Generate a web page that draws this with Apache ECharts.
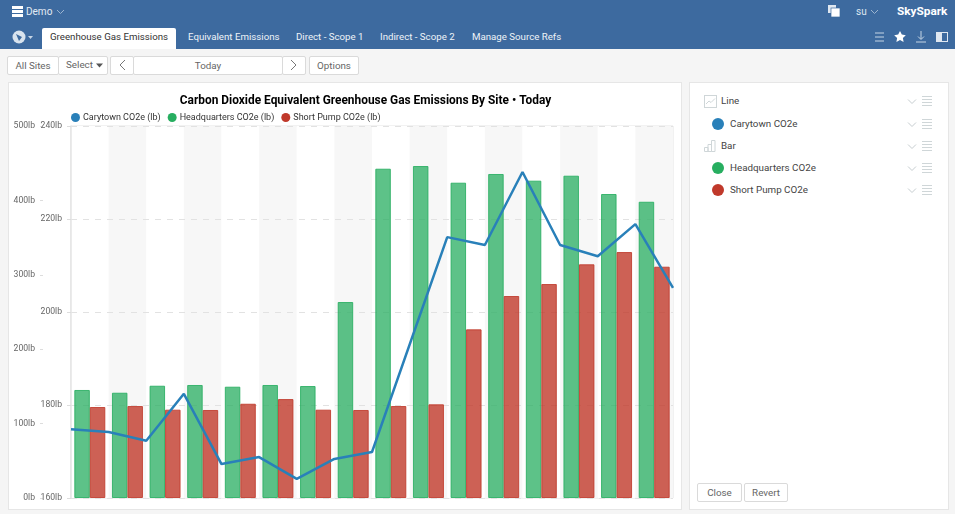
<!DOCTYPE html>
<html>
<head>
<meta charset="utf-8">
<title>Greenhouse Gas Emissions</title>
<script src="https://cdn.jsdelivr.net/npm/echarts@6/dist/echarts.min.js"></script>
<style>
  html, body { margin: 0; padding: 0; width: 955px; height: 514px; overflow: hidden; background: #f5f5f5; font-family: Roboto, sans-serif; }
  .abs { position: absolute; white-space: nowrap; }
  #topbar { left: 0; top: 0; width: 955px; height: 49px; background: #3d6a9f; }
  #activetab { left: 42px; top: 28px; width: 134px; height: 21px; background: #fff; border-radius: 2px 2px 0 0; }
  .tab { top: 29px; height: 16px; line-height: 16px; font-size: 9.7px; color: #eef3f8; }
  .tab.on { color: #333; }
  .btn { height: 17px; line-height: 17px; background: #fff; border: 1px solid #dadada; font-size: 9.8px; color: #666; text-align: center; box-sizing: content-box; }
  .panel { background: #fff; border: 1px solid #e6e6e6; box-sizing: border-box; }
  .row { font-size: 9.8px; color: #444; height: 14px; line-height: 14px; }
  .dot { width: 12px; height: 12px; border-radius: 50%; }
  svg.abs { overflow: visible; }
</style>
</head>
<body>
<div class="abs" id="topbar"></div>
<div class="abs" id="activetab"></div>
<div class="abs panel" style="left:8px;top:82px;width:674px;height:428px"></div>
<div class="abs panel" style="left:689px;top:82px;width:260px;height:428px"></div>
<div class="abs" id="chart" style="left:8px;top:82px;width:674px;height:428px"></div>
<div id="ui"></div>
<svg class="abs" id="icons" style="left:0;top:0" width="955" height="514"></svg>

<script>
var categories = ['1','2','3','4','5','6','7','8','9','10','11','12','13','14','15','16'];
var lineTicks = ['0','1','2','3','4','5','6','7','8','9','10','11','12','13','14','15','16'];

var headquarters = [145.2, 141.5, 150.9, 151.9, 149.6, 151.9, 150.5, 263.4, 442.6, 446.2, 423.8, 435.5, 426.5, 433.2, 408.6, 398.2];
var shortPump = [122.3, 123.6, 118.7, 118.3, 126.7, 133, 118.7, 118.3, 123.6, 125.9, 226.7, 271.5, 287.6, 314.1, 330.6, 310.9];
var carytown = [174.8, 174.2, 172.3, 182.4, 167.3, 168.8, 164.1, 168.4, 169.9, null, 216.1, 214.4, 230.1, 214.4, 212.0, 218.9, 205.2];

var tabs = [['Greenhouse Gas Emissions', 50, 1], ['Equivalent Emissions', 188], ['Direct - Scope 1', 296], ['Indirect - Scope 2', 380], ['Manage Source Refs', 472]];
var toolbar = [['All Sites', 7, 51], ['', 58, 49], ['', 110, 23], ['Today', 133, 149], ['', 282, 23], ['Options', 309, 49]];
var rows = [['Line', 721, 101], ['Carytown CO2e', 730, 124], ['Bar', 721, 146], ['Headquarters CO2e', 730, 168], ['Short Pump CO2e', 730, 190]];
var dots = [['#2980b9', 124], ['#27ae60', 168], ['#c0392b', 190]];

function add(cls, style, text) {
  var d = document.createElement('div');
  d.className = 'abs ' + cls;
  d.style.cssText = style;
  d.textContent = text || '';
  document.getElementById('ui').appendChild(d);
}

tabs.forEach(function (t) {
  add('tab' + (t[2] ? ' on' : ''), 'left:' + t[1] + 'px', t[0]);
});
toolbar.forEach(function (b) {
  add('btn', 'left:' + b[1] + 'px;top:56px;width:' + (b[2] - 1) + 'px;border-radius:2px', b[0]);
});
add('row', 'left:66px;top:58px;color:#666', 'Select');
rows.forEach(function (r) {
  add('row', 'left:' + r[1] + 'px;top:' + (r[2] - 7) + 'px', r[0]);
});
dots.forEach(function (d) {
  add('dot', 'left:712px;top:' + (d[1] - 6) + 'px;background:' + d[0]);
});
add('btn', 'left:697px;top:483px;width:43px;border-radius:2px', 'Close');
add('btn', 'left:744px;top:483px;width:42px;border-radius:2px', 'Revert');
add('', 'left:26px;top:5px;line-height:14px;font-size:10px;color:#e4ebf3', 'Demo');
add('', 'left:856px;top:5px;line-height:14px;font-size:10px;color:#dfe7f0', 'su');
add('', 'left:897px;top:3px;line-height:16px;font-size:11.8px;font-weight:700;color:#fff', 'SkySpark');

// small chrome icons, not chart marks
var svg = '';
svg += '<rect x="12" y="6" width="11" height="3" fill="#fff"/><rect x="12" y="10" width="11" height="3" fill="#fff"/><rect x="12" y="14" width="11" height="3" fill="#fff"/>';
svg += '<path d="M57 10l3.500 3.500L64 10" fill="none" stroke="#9db5d0"/><path d="M871 10l3.500 3.500L878 10" fill="none" stroke="#9db5d0"/>';
svg += '<circle cx="19" cy="37" r="6.500" fill="#d8e3ee"/><path d="M16 34l6 3-3 4z" fill="#3d6a9f"/><path d="M28 36h5l-2.500 3z" fill="#c6d5e5"/>';
svg += '<rect x="828" y="5" width="8" height="8" fill="#dfe7f0"/><rect x="831" y="8" width="9" height="9" fill="#fff" stroke="#3d6a9f" stroke-width=".7"/>';
svg += '<path d="M875 33h9M875 37h9M875 41h9" stroke="#c6d5e5"/>';
svg += '<path d="M900 31l1.800 3.600 4 .6-2.900 2.800.7 4-3.600-1.900-3.600 1.900.7-4-2.900-2.800 4-.6z" fill="#fff"/>';
svg += '<path d="M921 31v8M918 36.500l3 3 3-3M916 42h10" fill="none" stroke="#c6d5e5"/>';
svg += '<rect x="936" y="32" width="12" height="10" fill="#dfe7f0"/><rect x="942" y="33" width="5" height="8" fill="#3d6a9f"/>';
svg += '<path d="M96 63.500h7l-3.500 4z" fill="#555"/>';
svg += '<path d="M125 60l-5 5 5 5M291 60l5 5-5 5" fill="none" stroke="#777"/>';
svg += '<rect x="704.500" y="95.500" width="12" height="12" fill="none" stroke="#cfd6d8"/><path d="M706 104l3-3 2 1.500 4-4" fill="none" stroke="#cfd6d8"/>';
svg += '<path d="M704.500 151.500v-4h3.500v4zM708 151.500v-7h3.500v7zM711.500 151.500v-11h3.500v11z" fill="none" stroke="#cfd6d8"/>';
rows.forEach(function (r) {
  var y = r[2];
  svg += '<path d="M908 ' + (y - 1.5) + 'l4 4 4-4" fill="none" stroke="#c5cccf"/>';
  svg += '<path d="M922 ' + (y - 4.5) + 'h10M922 ' + (y - 1.5) + 'h10M922 ' + (y + 1.5) + 'h10M922 ' + (y + 4.5) + 'h10" stroke="#cfd6d8"/>';
});
document.getElementById('icons').innerHTML = svg;

var chart = echarts.init(document.getElementById('chart'));

var option = {
  animation: false,
  textStyle: { fontFamily: 'Roboto' },
  title: {
    text: 'Carbon Dioxide Equivalent Greenhouse Gas Emissions By Site \u2022 Today',
    left: 352.5,
    top: 8,
    textAlign: 'center',
    textStyle: { fontSize: 11.9, fontWeight: 'bold', color: '#000', fontFamily: 'Roboto' }
  },
  legend: {
    left: 58,
    top: 26,
    itemWidth: 9,
    itemHeight: 9,
    itemGap: 7,
    icon: 'circle',
    textStyle: { fontSize: 9, color: '#333', padding: [0, 0, 0, -2] },
    data: [
      { name: 'Carytown CO2e (lb)', itemStyle: { color: '#2980b9' } },
      { name: 'Headquarters CO2e (lb)', itemStyle: { color: '#27ae60', borderWidth: 0 } },
      { name: 'Short Pump CO2e (lb)', itemStyle: { color: '#c0392b', borderWidth: 0 } }
    ]
  },
  grid: {
    left: 63,
    right: 9,
    top: 44,
    bottom: 12,
    show: true,
    borderColor: '#e4e4e4',
    borderWidth: 1
  },
  xAxis: [{
    type: 'category',
    data: categories,
    z: 0,
    axisLine: { show: false },
    axisTick: { show: false },
    axisLabel: { show: false },
    splitArea: { show: true, areaStyle: { color: ['#ffffff', '#f7f7f7'] } }
  }, {
    type: 'category',
    data: lineTicks,
    boundaryGap: false,
    show: false
  }],
  yAxis: [{
    type: 'value',
    z: 1,
    min: 160,
    max: 240,
    interval: 20,
    axisLine: { show: true, lineStyle: { color: '#e4e4e4', width: 1.5 } },
    axisTick: { show: true, length: 4, lineStyle: { color: '#dddddd' } },
    axisLabel: { formatter: '{value}lb', fontSize: 8.6, color: '#666', margin: 9, padding: [4, 0, 0, 0] },
    splitLine: { show: true, lineStyle: { color: '#e2e2e2', type: [6, 6] } }
  }, {
    type: 'value',
    position: 'left',
    z: 1,
    offset: 28,
    min: 0,
    max: 500,
    interval: 100,
    axisLine: { show: false },
    axisTick: { show: true, length: 3, lineStyle: { color: '#dddddd' } },
    axisLabel: { formatter: '{value}lb', fontSize: 8.6, color: '#666', margin: 8, padding: [4, 0, 0, 0] },
    splitLine: { show: false }
  }],
  series: [{
    name: 'Headquarters CO2e (lb)',
    type: 'bar',
    yAxisIndex: 1,
    data: headquarters,
    barWidth: 15.5,
    barGap: 0,
    itemStyle: { color: 'rgba(39,174,96,0.75)', borderColor: 'rgba(39,174,96,0.85)', borderWidth: 1 }
  }, {
    name: 'Short Pump CO2e (lb)',
    type: 'bar',
    yAxisIndex: 1,
    data: shortPump,
    barWidth: 15.5,
    barGap: 0,
    itemStyle: { color: 'rgba(192,57,43,0.8)', borderColor: 'rgba(192,57,43,0.85)', borderWidth: 1 }
  }, {
    name: 'Carytown CO2e (lb)',
    type: 'line',
    xAxisIndex: 1,
    yAxisIndex: 0,
    data: carytown,
    connectNulls: true,
    showSymbol: false,
    z: 5,
    lineStyle: { color: '#2980b9', width: 2.5 },
    itemStyle: { color: '#2980b9' }
  }]
};

chart.setOption(option);
</script>
</body>
</html>
